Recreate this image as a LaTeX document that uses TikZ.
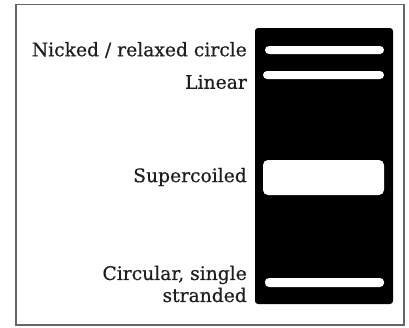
\documentclass[tikz,border=0pt]{standalone}
\usepackage{fontspec}
\setmainfont{DejaVu Serif}[FakeBold=0.6]
\begin{document}
\begin{tikzpicture}[x=1pt,y=-1pt,
  lbl/.style={anchor=east,inner sep=0pt,font=\fontsize{18.7}{22}\selectfont,align=right,text=black!88},
  band/.style={fill=white,rounded corners=4pt},
  gel/.style={fill=black,rounded corners=3pt}]
\useasboundingbox (0,0) rectangle (409,327);
\draw[line width=1.3pt,draw=black!60] (16,4.5) rectangle (404,325);
\fill[gel] (255,28) rectangle (393,304);
\fill[band] (265,46) rectangle (384,54);
\fill[band] (263,71) rectangle (384,79);
\fill[band,rounded corners=5pt] (263,160) rectangle (384,195);
\fill[band] (265,278) rectangle (384,287);
\node[lbl] (n1) at (247,50) {Nicked / relaxed circle};
\node[lbl] (n2) at (247,82) {Linear};
\node[lbl] (n3) at (247,177) {Supercoiled};
\node[lbl] (n4) at (247,284) {Circular, single\\stranded};
\end{tikzpicture}
\end{document}
